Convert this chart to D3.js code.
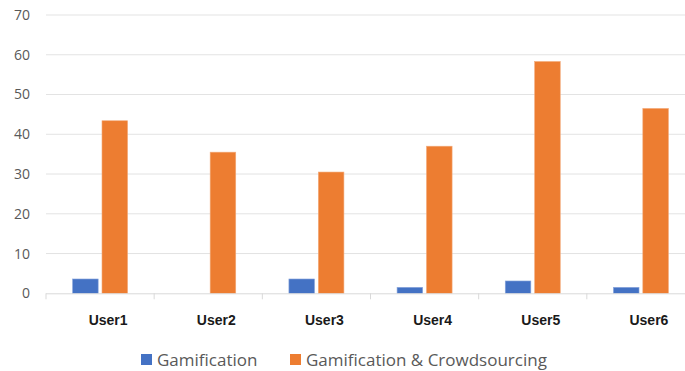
<!DOCTYPE html>
<html>
<head>
<meta charset="utf-8">
<script src="https://cdn.jsdelivr.net/npm/d3@7"></script>
<style>
  html, body { margin: 0; padding: 0; background: #fff; }
  svg { display: block; }
</style>
</head>
<body>
<svg id="chart" width="685" height="371"></svg>
<script>
// Chart data
const users = ["User1", "User2", "User3", "User4", "User5", "User6"];
const gamification = [3.6, 0, 3.6, 1.5, 3.1, 1.5];
const gamificationCrowd = [43.4, 35.5, 30.5, 37.0, 58.3, 46.5];
const seriesNames = ["Gamification", "Gamification & Crowdsourcing"];
const yTicks = [0, 10, 20, 30, 40, 50, 60, 70];

const colors = ["#4472C4", "#ED7D31"];
const svg = d3.select("#chart");

const plotLeft = 46, plotRight = 695, plotTop = 15, plotBottom = 293.3;

const x = d3.scaleBand().domain(users).range([plotLeft, plotRight]).padding(0);
const y = d3.scaleLinear().domain([0, 70]).range([plotBottom, plotTop]);

// Horizontal gridlines
svg.append("g")
  .selectAll("line")
  .data(yTicks.filter(d => d > 0))
  .join("line")
  .attr("x1", plotLeft).attr("x2", 685)
  .attr("y1", d => y(d)).attr("y2", d => y(d))
  .attr("stroke", "#e3e3e3").attr("stroke-width", 1);

// Y axis labels
const yAxis = d3.axisLeft(y).tickValues(yTicks).tickSize(0).tickPadding(16);
const yg = svg.append("g").attr("transform", `translate(${plotLeft},0)`).call(yAxis);
yg.select(".domain").remove();
yg.selectAll("text")
  .attr("fill", "#595959")
  .style("font-family", "'Open Sans', sans-serif")
  .style("font-size", "14px");

// Bars
const inner = d3.scaleBand().domain([0, 1]).range([0, 55]).paddingInner(0.13);
const groups = svg.append("g")
  .selectAll("g")
  .data(users)
  .join("g")
  .attr("transform", d => `translate(${x(d) + x.bandwidth() / 2 - 27.5},0)`);

groups.selectAll("rect")
  .data((d, i) => [gamification[i], gamificationCrowd[i]].map((v, s) => ({ v, s })).filter(e => e.v > 0))
  .join("rect")
  .attr("x", d => inner(d.s))
  .attr("width", inner.bandwidth())
  .attr("y", d => y(d.v))
  .attr("height", d => y(0) - y(d.v))
  .attr("fill", d => colors[d.s])
  .attr("stroke", d => d.s === 0 ? "#8aa6dc" : "#f3aa7a")
  .attr("stroke-width", 0.6);

// X axis baseline with category dividers
const xAxis = d3.axisBottom(x).tickSize(0).tickFormat(d => d);
const xg = svg.append("g").attr("transform", `translate(0,${plotBottom})`).call(xAxis);
xg.select(".domain").attr("stroke", "#d9d9d9").attr("d", `M${plotLeft},0.5H685`);
xg.selectAll("text")
  .attr("dy", 0)
  .attr("y", 32)
  .attr("dx", 8)
  .attr("fill", "#1a1a1a")
  .style("font-family", "'Liberation Sans', Arial, sans-serif")
  .style("font-weight", "bold")
  .style("font-size", "14px");

svg.append("g")
  .selectAll("line")
  .data(users)
  .join("line")
  .attr("x1", d => x(d)).attr("x2", d => x(d))
  .attr("y1", plotBottom).attr("y2", plotBottom + 6)
  .attr("stroke", "#d9d9d9");

// Legend
const legendItems = [
  { name: seriesNames[0], sx: 141, tx: 157 },
  { name: seriesNames[1], sx: 290, tx: 306 }
];
const lg = svg.append("g").selectAll("g").data(legendItems).join("g");
lg.append("rect")
  .attr("x", d => d.sx).attr("y", 354)
  .attr("width", 11).attr("height", 11)
  .attr("fill", (d, i) => colors[i]);
lg.append("text")
  .attr("x", d => d.tx).attr("y", 366)
  .attr("fill", "#595959")
  .style("font-family", "'Open Sans', sans-serif")
  .style("font-size", "17px")
  .text(d => d.name);
</script>
</body>
</html>
